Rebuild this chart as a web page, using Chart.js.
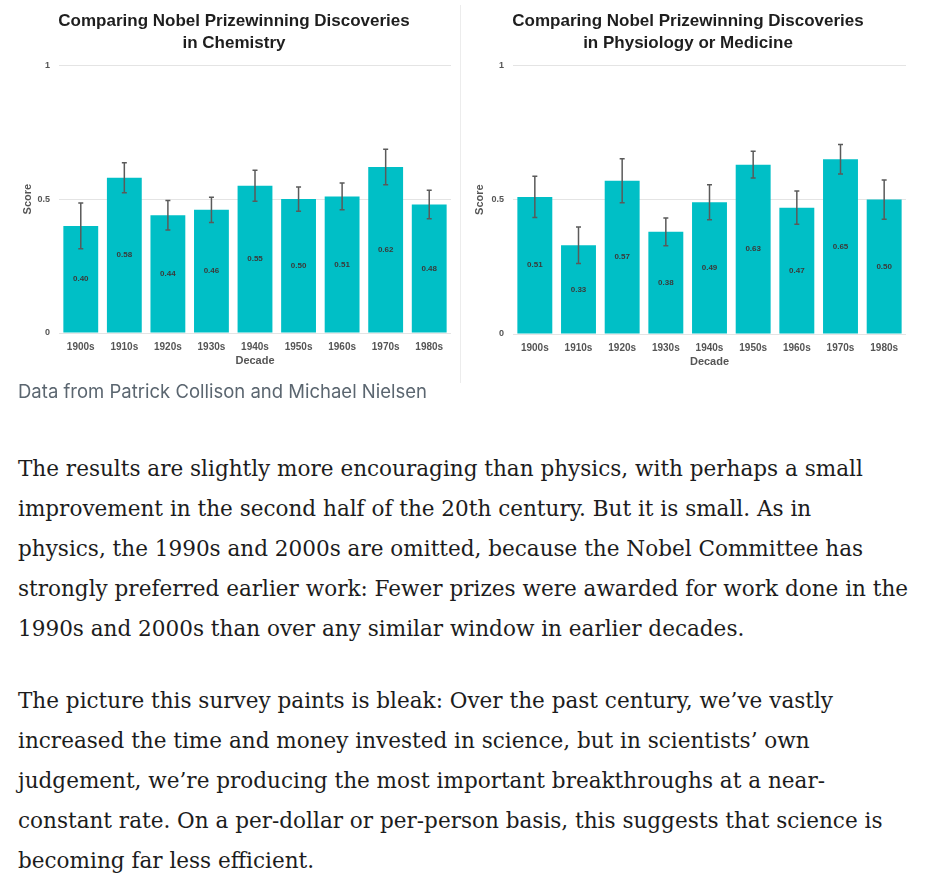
<!DOCTYPE html>
<html>
<head>
<meta charset="utf-8">
<script src="https://cdn.jsdelivr.net/npm/chart.js@4.4.1/dist/chart.umd.min.js"></script>
<style>
  html, body { margin: 0; padding: 0; background: #fff; width: 928px; height: 884px; overflow: hidden; }
  #wrap { position: relative; width: 928px; height: 884px; }
  #c1 { position: absolute; left: 0; top: 0; }
  #c2 { position: absolute; left: 461px; top: 0; }
  #sep { position: absolute; left: 460px; top: 5px; width: 1px; height: 378px; background: #ececec; }
  #caption { position: absolute; left: 18px; top: 379px; font-family: Inter, "Noto Sans", sans-serif; font-size: 18.5px; line-height: 24px; color: #5b6670; white-space: nowrap; }
  .para { position: absolute; left: 18px; font-family: "DejaVu Serif", serif; font-size: 20px; color: #1c1c1c; }
  .para div { height: 40px; line-height: 40px; white-space: nowrap; }
</style>
</head>
<body>
<div id="wrap">
  <canvas id="c1" width="459" height="380"></canvas>
  <div id="sep"></div>
  <canvas id="c2" width="467" height="380"></canvas>
  <div id="caption"></div>
  <div class="para" id="p1" style="top:449px"></div>
  <div class="para" id="p2" style="top:681px"></div>
</div>
<script>
// ---- data ----
const decades = ['1900s','1910s','1920s','1930s','1940s','1950s','1960s','1970s','1980s'];
const chemistryScores = [0.40, 0.58, 0.44, 0.46, 0.55, 0.50, 0.51, 0.62, 0.48];
const chemistryErrors = [0.085, 0.056, 0.055, 0.047, 0.058, 0.045, 0.050, 0.066, 0.053];
const medicineScores = [0.51, 0.33, 0.57, 0.38, 0.49, 0.63, 0.47, 0.65, 0.50];
const medicineErrors = [0.077, 0.068, 0.082, 0.052, 0.065, 0.050, 0.062, 0.055, 0.073];
const yTicks = [0, 0.5, 1];
const yTickLabels = ['0', '0.5', '1'];
const chemistryTitle = ['Comparing Nobel Prizewinning Discoveries', 'in Chemistry'];
const medicineTitle = ['Comparing Nobel Prizewinning Discoveries', 'in Physiology or Medicine'];
const captionText = 'Data from Patrick Collison and Michael Nielsen';
const paragraph1 = [
  'The results are slightly more encouraging than physics, with perhaps a small',
  'improvement in the second half of the 20th century. But it is small. As in',
  'physics, the 1990s and 2000s are omitted, because the Nobel Committee has',
  'strongly preferred earlier work: Fewer prizes were awarded for work done in the',
  '1990s and 2000s than over any similar window in earlier decades.'
];
const paragraph2 = [
  'The picture this survey paints is bleak: Over the past century, we\u2019ve vastly',
  'increased the time and money invested in science, but in scientists\u2019 own',
  'judgement, we\u2019re producing the most important breakthroughs at a near-',
  'constant rate. On a per-dollar or per-person basis, this suggests that science is',
  'becoming far less efficient.'
];

// ---- text ----
document.getElementById('caption').textContent = captionText;
function fillPara(id, lines) {
  const el = document.getElementById(id);
  lines.forEach(t => { const d = document.createElement('div'); d.textContent = t; el.appendChild(d); });
}
fillPara('p1', paragraph1);
fillPara('p2', paragraph2);
(function fitSize() {
  const cv = document.createElement('canvas').getContext('2d');
  cv.font = '20px "DejaVu Serif"';
  const ref = paragraph1[3];
  const w = cv.measureText(ref).width;
  const size = 20 * 890 / w;
  document.querySelectorAll('.para').forEach(p => p.style.fontSize = size.toFixed(2) + 'px');
})();

// ---- plugins ----
const errorBarPlugin = {
  id: 'errorBars',
  afterDatasetsDraw(chart, args, opts) {
    const ctx = chart.ctx;
    const meta = chart.getDatasetMeta(0);
    const y = chart.scales.y;
    const vals = chart.data.datasets[0].data;
    const errs = opts.errors || [];
    ctx.save();
    ctx.strokeStyle = '#5a5a5a';
    ctx.lineWidth = 1.5;
    meta.data.forEach((bar, i) => {
      const v = vals[i], e = errs[i];
      if (e == null) return;
      const top = y.getPixelForValue(v + e);
      const bot = y.getPixelForValue(v - e);
      const x = bar.x;
      ctx.beginPath();
      ctx.moveTo(x, top); ctx.lineTo(x, bot);
      ctx.moveTo(x - 2.5, top); ctx.lineTo(x + 2.5, top);
      ctx.moveTo(x - 2.5, bot); ctx.lineTo(x + 2.5, bot);
      ctx.stroke();
    });
    ctx.restore();
  }
};
const valueLabelPlugin = {
  id: 'valueLabels',
  afterDatasetsDraw(chart) {
    const ctx = chart.ctx;
    const meta = chart.getDatasetMeta(0);
    const vals = chart.data.datasets[0].data;
    ctx.save();
    ctx.fillStyle = '#3a3a3a';
    ctx.font = 'bold 8px "Liberation Sans", Arial, sans-serif';
    ctx.textAlign = 'center';
    ctx.textBaseline = 'middle';
    meta.data.forEach((bar, i) => {
      ctx.fillText(vals[i].toFixed(2), bar.x, (bar.y + bar.base) / 2);
    });
    ctx.restore();
  }
};

function makeChart(id, title, scores, errors, pad, yWidth, scoreTitlePad, xHeight, decadePad) {
  return new Chart(document.getElementById(id), {
    type: 'bar',
    data: {
      labels: decades,
      datasets: [{
        data: scores,
        backgroundColor: '#00bfc6',
        borderWidth: 0,
        barPercentage: 0.8,
        categoryPercentage: 1.0
      }]
    },
    options: {
      responsive: false,
      animation: false,
      events: [],
      layout: { padding: pad },
      plugins: {
        legend: { display: false },
        tooltip: { enabled: false },
        title: {
          display: true,
          text: title,
          color: '#1e1e1e',
          font: { family: '"Liberation Sans", Arial, sans-serif', size: 17, weight: 'bold', lineHeight: 1.3 },
          padding: { top: 10, bottom: 11 }
        },
        errorBars: { errors: errors }
      },
      scales: {
        x: {
          grid: { display: false, drawTicks: false },
          border: { display: false },
          ticks: { color: '#555', padding: 8, font: { family: '"Liberation Sans", Arial, sans-serif', size: 10, weight: 'bold' } },
          title: { display: true, text: 'Decade', color: '#555', padding: { top: 0, bottom: decadePad },
                   font: { family: '"Liberation Sans", Arial, sans-serif', size: 11, weight: 'bold', lineHeight: 1.2 } },
          afterFit: s => { s.height = xHeight; }
        },
        y: {
          min: 0, max: 1,
          afterBuildTicks: s => { s.ticks = yTicks.map(v => ({ value: v })); },
          grid: { color: '#e4e4e4', lineWidth: 1, drawTicks: false },
          border: { display: false },
          ticks: {
            color: '#555', padding: 9,
            font: { family: '"Liberation Sans", Arial, sans-serif', size: 9, weight: 'bold' },
            callback: (v) => yTickLabels[yTicks.indexOf(v)]
          },
          title: { display: true, text: 'Score', color: '#555', padding: { top: scoreTitlePad, bottom: 0 },
                   font: { family: '"Liberation Sans", Arial, sans-serif', size: 11, weight: 'bold', lineHeight: 1.2 } },
          afterFit: s => { s.width = yWidth; }
        }
      }
    },
    plugins: [errorBarPlugin, valueLabelPlugin]
  });
}

makeChart('c1', chemistryTitle, chemistryScores, chemistryErrors,
  { left: 17, right: 8, top: 0, bottom: 0 }, 42, 4, 47, 12);
makeChart('c2', medicineTitle, medicineScores, medicineErrors,
  { left: 9, right: 22, top: 0, bottom: 0 }, 43, 3.4, 46, 11);
</script>
</body>
</html>
